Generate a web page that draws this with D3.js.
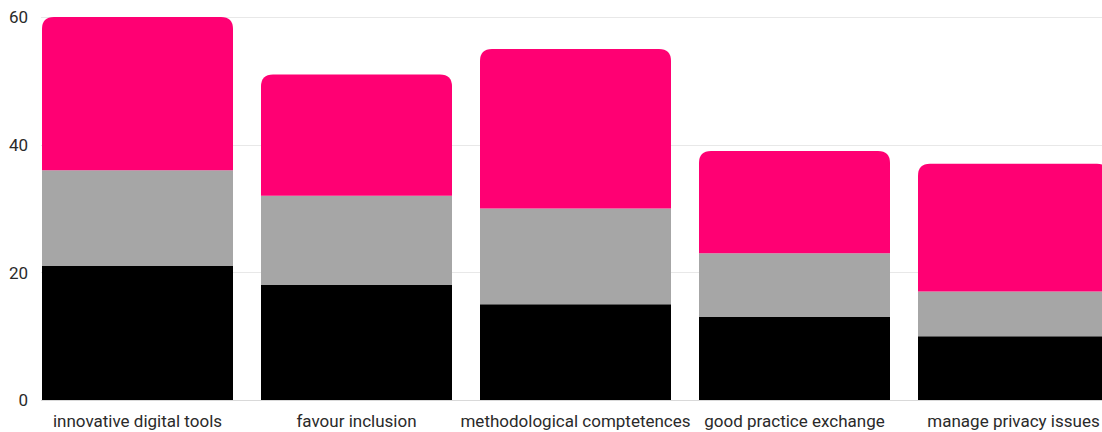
<!DOCTYPE html>
<html><head><meta charset="utf-8">
<script src="https://cdn.jsdelivr.net/npm/d3@7"></script>
<style>body{margin:0;background:#fff;}svg{display:block;font-family:Roboto, sans-serif;}</style>
</head><body><svg id="c" width="1102" height="432"></svg>
<script>
const categories = ["innovative digital tools","favour inclusion","methodological comptetences","good practice exchange","manage privacy issues"];
const seriesNames = ["black","gray","pink"];
const blackValues = [21,18,15,13,10];
const grayValues = [15,14,15,10,7];
const pinkValues = [24,19,25,16,20];
const yTicks = [0,20,40,60];
const colors = {black:"#000000", gray:"#a6a6a6", pink:"#ff0073"};

const svg = d3.select("#c");
const y = d3.scaleLinear().domain([0,60]).range([400,17]);
const x = d3.scaleBand().domain(categories).range([28,1123]).paddingInner(28/219).paddingOuter(14/219);

const grid = svg.append("g");
grid.selectAll("line").data(yTicks).join("line")
  .attr("x1",41).attr("x2",1102)
  .attr("y1",d=>Math.round(y(d))+0.5).attr("y2",d=>Math.round(y(d))+0.5)
  .attr("stroke",d=>d===0?"#d9d9d9":"#e8e8e8").attr("stroke-width",1);

const yAxis = d3.axisLeft(y).tickValues(yTicks).tickSize(0).tickPadding(0);
svg.append("g").attr("transform","translate(28,0)").call(yAxis)
  .call(g=>g.select(".domain").remove())
  .call(g=>g.selectAll("text").attr("font-size",17).attr("fill","#2a2a2a").attr("font-family","Roboto, sans-serif").attr("dy","0.35em"));

const data = categories.map((c,i)=>({cat:c, black:blackValues[i], gray:grayValues[i], pink:pinkValues[i]}));
const stack = d3.stack().keys(seriesNames)(data);
const r = 12;
function topRounded(x0,w,y0,y1){
  return `M${x0},${y0}V${y1+r}Q${x0},${y1} ${x0+r},${y1}H${x0+w-r}Q${x0+w},${y1} ${x0+w},${y1+r}V${y0}Z`;
}
stack.forEach(layer=>{
  const g = svg.append("g").attr("fill",colors[layer.key]);
  g.selectAll("path").data(layer).join("path")
    .attr("d",d=>{
      const x0=x(d.data.cat), w=x.bandwidth(), yb=y(d[0]), yt=y(d[1]);
      if(layer.key==="pink") return topRounded(x0,w,yb,yt);
      return `M${x0},${yb}V${yt}H${x0+w}V${yb}Z`;
    });
});

const xAxis = d3.axisBottom(x).tickSize(0).tickPadding(0);
svg.append("g").attr("transform","translate(0,427)").call(xAxis)
  .call(g=>g.select(".domain").remove())
  .call(g=>g.selectAll("text").attr("font-size",17).attr("fill","#2a2a2a").attr("font-family","Roboto, sans-serif").attr("y",0).attr("dy",0));
</script></body></html>
